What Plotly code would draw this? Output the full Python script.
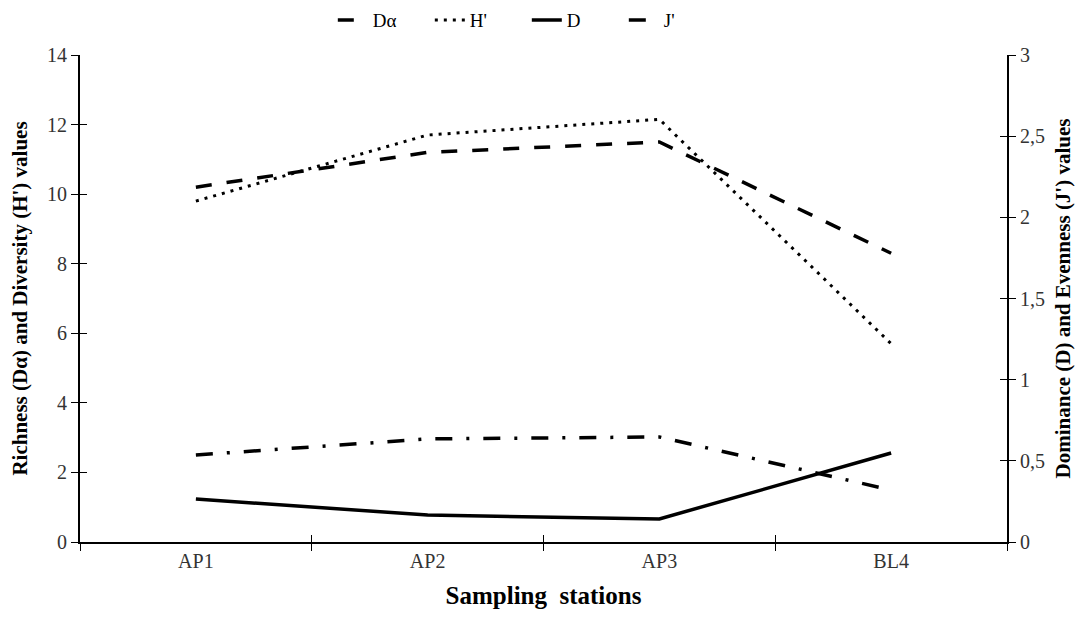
import plotly.graph_objects as go

stations = ["AP1", "AP2", "AP3", "BL4"]
richness_da = [10.2, 11.2, 11.5, 8.3]
diversity_h = [9.8, 11.7, 12.15, 5.7]
dominance_d = [0.265, 0.166, 0.142, 0.548]
evenness_j = [0.536, 0.635, 0.647, 0.32]

left_ticks = [0, 2, 4, 6, 8, 10, 12, 14]
right_tickvals = [0, 0.5, 1, 1.5, 2, 2.5, 3]
right_ticktext = ["0", "0,5", "1", "1,5", "2", "2,5", "3"]

FONT = "Liberation Serif"
fig = go.Figure()

fig.add_trace(go.Scatter(x=stations, y=richness_da, name="Dα", mode="lines",
                         line=dict(color="black", width=3.5, dash="16px,15px"), yaxis="y"))
fig.add_trace(go.Scatter(x=stations, y=diversity_h, name="H'", mode="lines",
                         line=dict(color="black", width=3, dash="3px,6px"), yaxis="y"))
fig.add_trace(go.Scatter(x=stations, y=dominance_d, name="D", mode="lines",
                         line=dict(color="black", width=3.5), yaxis="y2"))
fig.add_trace(go.Scatter(x=stations, y=evenness_j, name="J'", mode="lines",
                         line=dict(color="black", width=3.5, dash="17px,14px,3px,14px"), yaxis="y2"))

# empty helper traces for inner tick marks (cross ticks)
fig.add_trace(go.Scatter(x=[], y=[], xaxis="x2", yaxis="y3", showlegend=False, hoverinfo="skip"))
fig.add_trace(go.Scatter(x=[], y=[], xaxis="x2", yaxis="y4", showlegend=False, hoverinfo="skip"))

axis_font = dict(family=FONT, size=20, color="#333")
title_font = dict(family=FONT, size=21, color="black")

fig.update_layout(
    width=1067, height=603,
    margin=dict(l=72, r=68, t=47, b=69, autoexpand=False),
    plot_bgcolor="white", paper_bgcolor="white",
    font=dict(family=FONT, color="black"),
    showlegend=True,
    legend=dict(orientation="h", x=0.482, xanchor="center", y=0.98, yanchor="middle",
                yref="container",
                font=dict(family=FONT, size=19, color="black"),
                entrywidth=52, entrywidthmode="pixels",
                traceorder="normal", bgcolor="rgba(0,0,0,0)"),
    xaxis=dict(type="category", categoryorder="array", categoryarray=stations,
               range=[-0.5, 3.5], tickson="boundaries", ticks="outside", ticklen=7,
               tickwidth=1.3, tickcolor="black", showline=True, linecolor="black",
               linewidth=1.8, showgrid=False, zeroline=False, tickfont=axis_font,
               automargin=False,
               title=dict(text="<b>Sampling  stations</b>",
                          font=dict(family=FONT, size=25, color="black"), standoff=16)),
    xaxis2=dict(overlaying="x", range=[-0.5, 3.5], tickvals=[0.5, 1.5, 2.5],
                ticks="inside", ticklen=7, tickwidth=1.3, tickcolor="black",
                showticklabels=False, showgrid=False, zeroline=False, showline=False,
                anchor="y3", side="bottom", automargin=False),
    yaxis=dict(range=[0, 14], tickvals=left_ticks, ticks="outside", ticklen=7,
               tickwidth=1.3, tickcolor="black", showline=True, linecolor="black",
               linewidth=1.8, showgrid=False, zeroline=False, tickfont=axis_font,
               automargin=False,
               title=dict(text="<b>Richness (Dα) and Diversity (H') values</b>",
                          font=title_font, standoff=16)),
    yaxis2=dict(range=[0, 3], tickvals=right_tickvals, ticktext=right_ticktext,
                overlaying="y", side="right", anchor="x", ticks="outside", ticklen=7,
                tickwidth=1.3, tickcolor="black", showline=True, linecolor="black",
                linewidth=1.8, showgrid=False, zeroline=False, tickfont=axis_font,
                automargin=False,
                title=dict(text="<b>Dominance (D) and Evenness (J') values</b>",
                           font=title_font, standoff=16)),
    yaxis3=dict(range=[0, 14], tickvals=left_ticks, overlaying="y", side="left",
                anchor="x2", ticks="inside", ticklen=7, tickwidth=1.3, tickcolor="black",
                showticklabels=False, showgrid=False, zeroline=False, showline=False,
                automargin=False),
    yaxis4=dict(range=[0, 3], tickvals=right_tickvals, overlaying="y", side="right",
                anchor="x2", ticks="inside", ticklen=7, tickwidth=1.3, tickcolor="black",
                showticklabels=False, showgrid=False, zeroline=False, showline=False,
                automargin=False),
)

fig.write_html("out.html")
